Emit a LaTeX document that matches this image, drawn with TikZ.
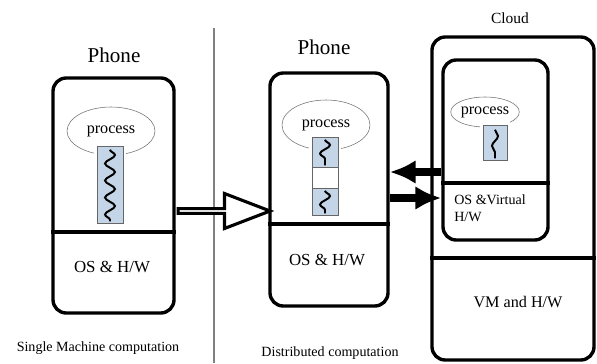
\documentclass[tikz,border=0pt]{standalone}
\usepackage{fontspec}
\setmainfont{Liberation Serif}
\usetikzlibrary{shapes,arrows.meta,decorations.pathmorphing}
\newlength\px
\setlength\px{0.025cm}
\definecolor{threadfill}{RGB}{197,213,232}
\tikzstyle{device}=[draw,line width=2.4pt,rounded corners=0.33cm,inner sep=0]
\tikzstyle{layer}=[line width=2.4pt]
\tikzstyle{proc}=[ellipse,draw=black!55,thin,inner sep=0,font=\fontsize{11.5}{12}\selectfont]
\tikzstyle{thread}=[rectangle,draw=black!60,fill=threadfill,inner sep=0]
\tikzstyle{gap}=[preaction={draw=white,line width=4pt}]
\tikzstyle{squiggle}=[decorate,decoration={snake,amplitude=5\px,segment length=17\px},line width=1.4pt]
\tikzstyle{link}=[line width=5pt,-{Latex[length=0.65cm,width=0.6cm]}]
\tikzstyle{migrate}=[single arrow,draw,line width=2.2pt,fill=white,inner sep=0,minimum width=35\px,minimum height=92\px,single arrow head extend=10\px,single arrow tip angle=42]
\tikzstyle{title}=[font=\fontsize{15}{16}\selectfont]
\tikzstyle{caption}=[font=\fontsize{10}{11}\selectfont]

\begin{document}
\begin{tikzpicture}[x=0.025cm,y=-0.025cm]
  \useasboundingbox (0,0) rectangle (597,363);

  % single machine
  \node[title] (phoneAlbl) at (114,55) {Phone};
  \node[device,minimum width=121\px,minimum height=235\px] (phoneA) at (113.5,195.5) {};
  \draw[layer] (phoneA.west |- 0,232) -- (phoneA.east |- 0,232);
  \node[proc,minimum width=88\px,minimum height=48\px] (procA) at (111,131) {process};
  \node[thread,gap,minimum width=26\px,minimum height=77\px] (thrA) at (110,184.5) {};
  \draw[squiggle] ([yshift=-4\px]thrA.north) -- ([yshift=2\px]thrA.south);
  \node[font=\fontsize{12}{13}\selectfont] (osA) at (112,267) {OS \& H/W};
  \node[caption] (capA) at (98,348) {Single Machine computation};

  % split line
  \draw[gray,line width=1pt] (214,28) -- (214,363);

  % offloaded
  \node[title] (phoneBlbl) at (324,47) {Phone};
  \node[device,minimum width=118\px,minimum height=233\px] (phoneB) at (329,189.5) {};
  \draw[layer] (phoneB.west |- 0,224) -- (phoneB.east |- 0,224);
  \node[proc,minimum width=88\px,minimum height=50\px] (procB) at (326,125) {process};
  \node[thread,gap,minimum width=26\px,minimum height=30\px] (thrBtop) at (325,152) {};
  \node[thread,fill=white,minimum width=26\px,minimum height=21\px] (thrBmid) at (325,177.5) {};
  \node[thread,minimum width=26\px,minimum height=27\px] (thrBbot) at (325,201.5) {};
  \draw[squiggle] ([yshift=-3\px]thrBtop.north) -- ([yshift=2\px]thrBtop.south);
  \draw[squiggle] ([yshift=-3\px]thrBbot.north) -- ([yshift=2\px]thrBbot.south);
  \node[font=\fontsize{12}{13}\selectfont] (osB) at (327,260) {OS \& H/W};
  \node[caption] (capB) at (330,353) {Distributed computation};

  \node[migrate] (mig) at (221,211) {};

  % cloud side
  \node[font=\fontsize{11}{12}\selectfont] (cloudlbl) at (510,18) {Cloud};
  \node[device,minimum width=162\px,minimum height=323\px] (cloud) at (513,198.5) {};
  \draw[layer] (cloud.west |- 0,258) -- (cloud.east |- 0,258);
  \node[device,minimum width=105\px,minimum height=180\px] (guest) at (495.5,150) {};
  \draw[layer] (guest.west |- 0,183) -- (guest.east |- 0,183);
  \node[proc,minimum width=66\px,minimum height=30\px] (procC) at (485,112) {process};
  \node[thread,gap,minimum width=24\px,minimum height=35\px] (thrC) at (495,142.5) {};
  \draw[squiggle,decoration={amplitude=3\px,segment length=20\px}] ([yshift=-5\px]thrC.north) -- ([yshift=2\px]thrC.south);
  \node[anchor=west,align=left,inner sep=0,font=\fontsize{10}{12}\selectfont] (osC) at (454,208) {OS \&Virtual\\H/W};
  \node[font=\fontsize{11.5}{12}\selectfont] (vm) at (518,302) {VM and H/W};

  \draw[link] (guest.west |- 0,172) -- (phoneB.east |- 0,172);
  \draw[link] (phoneB.east |- 0,198) -- (guest.west |- 0,198);
\end{tikzpicture}
\end{document}
